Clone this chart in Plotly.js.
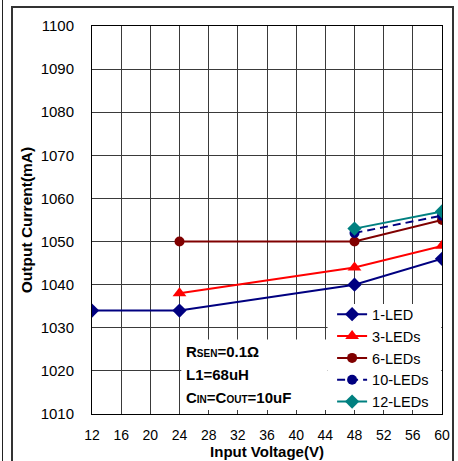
<!DOCTYPE html>
<html>
<head>
<meta charset="utf-8">
<script src="https://cdn.plot.ly/plotly-3.0.1.min.js"></script>
<style>
  html, body { margin: 0; padding: 0; background: #fff; }
  #wrap { position: relative; width: 458px; height: 461px; overflow: hidden; }
  #chart { position: absolute; left: 0; top: 0; width: 458px; height: 461px; }
  .frame { position: absolute; pointer-events: none; }
</style>
</head>
<body>
<div id="wrap">
  <div id="chart"></div>
  <div class="frame" style="left:2px; top:0; width:1px; height:461px; background:#222;"></div>
  <div class="frame" style="left:11px; top:6px; width:439px; height:470px; border-left:2px solid #333; border-top:2px solid #333; border-right:2px solid #333;"></div>
</div>
<script>
// ---- data ----
const voltage1 = [12, 24, 48, 60];
const current1 = [1034, 1034, 1040, 1046];
const voltage3 = [24, 48, 60];
const current3 = [1038, 1044, 1049];
const voltage6 = [24, 48, 60];
const current6 = [1050, 1050, 1055];
const voltage10 = [48, 60];
const current10 = [1052, 1056];
const voltage12 = [48, 60];
const current12 = [1053, 1057];
const seriesNames = ['1-LED', '3-LEDs', '6-LEDs', '10-LEDs', '12-LEDs'];
const xTicks = [12, 16, 20, 24, 28, 32, 36, 40, 44, 48, 52, 56, 60];
const yTicks = [1010, 1020, 1030, 1040, 1050, 1060, 1070, 1080, 1090, 1100];

const FONT = 'Arial, "Liberation Sans", sans-serif';
const GRID = '#3a3a3a';

const traces = [
  { x: voltage1, y: current1, name: seriesNames[0], mode: 'lines+markers',
    line: { color: '#000080', width: 2 },
    marker: { symbol: 'diamond', size: 11, color: '#000080' } },
  { x: voltage3, y: current3, name: seriesNames[1], mode: 'lines+markers',
    line: { color: '#ff0000', width: 2 },
    marker: { symbol: 'triangle-up', size: 12, color: '#ff0000' } },
  { x: voltage6, y: current6, name: seriesNames[2], mode: 'lines+markers',
    line: { color: '#800000', width: 2 },
    marker: { symbol: 'circle', size: 10, color: '#800000' } },
  { x: voltage10, y: current10, name: seriesNames[3], mode: 'lines+markers',
    line: { color: '#000080', width: 2, dash: '8px,5px' },
    marker: { symbol: 'circle', size: 10, color: '#000080' } },
  { x: voltage12, y: current12, name: seriesNames[4], mode: 'lines+markers',
    line: { color: '#008080', width: 2 },
    marker: { symbol: 'diamond', size: 11, color: '#008080' } }
];

const layout = {
  width: 458, height: 461,
  margin: { l: 92, r: 16, t: 26, b: 47 },
  paper_bgcolor: 'rgba(0,0,0,0)',
  plot_bgcolor: '#fff',
  font: { family: FONT, color: '#000' },
  showlegend: true,
  legend: {
    x: 0.686, xanchor: 'left', y: -0.011, yanchor: 'bottom',
    bgcolor: 'rgba(0,0,0,0)', borderwidth: 0,
    font: { family: FONT, size: 14.5, color: '#000' },
    traceorder: 'normal'
  },
  xaxis: {
    range: [12, 60], tickvals: xTicks, ticktext: xTicks.map(String),
    showgrid: true, gridcolor: GRID, gridwidth: 1,
    showline: true, linecolor: '#000', linewidth: 1, mirror: true,
    ticks: 'inside', ticklen: 4, tickcolor: GRID,
    tickfont: { family: FONT, size: 14, color: '#000' },
    ticklabelstandoff: 8,
    zeroline: false,
    title: { text: '<b>Input Voltage(V)</b>', font: { family: FONT, size: 15, color: '#000' }, standoff: 2 }
  },
  yaxis: {
    range: [1010, 1100], tickvals: yTicks, ticktext: yTicks.map(String),
    showgrid: true, gridcolor: GRID, gridwidth: 1,
    showline: true, linecolor: '#000', linewidth: 1, mirror: true,
    ticks: '', tickfont: { family: FONT, size: 15, color: '#000' },
    ticklabelstandoff: 14,
    zeroline: false,
    title: { text: '<b>Output Current(mA)</b>', font: { family: FONT, size: 15.5, color: '#000' }, standoff: 4 }
  },
  shapes: [
    { type: 'rect', layer: 'between', xref: 'x', yref: 'y',
      x0: 24.25, x1: 44.3, y0: 1010.6, y1: 1027.3,
      fillcolor: '#fff', line: { width: 0 } },
    { type: 'rect', layer: 'between', xref: 'x', yref: 'y',
      x0: 44.3, x1: 59.9, y0: 1010.6, y1: 1035.5,
      fillcolor: '#fff', line: { width: 0 } }
  ],
  annotations: [
    { xref: 'x', yref: 'y', x: 24.6, y: 1024.4, xanchor: 'left', yanchor: 'middle', showarrow: false,
      align: 'left', font: { family: FONT, size: 15, color: '#000' },
      text: '<b>R<span style="font-size:10px">SEN</span>=0.1Ω</b>' },
    { xref: 'x', yref: 'y', x: 24.6, y: 1019.1, xanchor: 'left', yanchor: 'middle', showarrow: false,
      align: 'left', font: { family: FONT, size: 15, color: '#000' },
      text: '<b>L1=68uH</b>' },
    { xref: 'x', yref: 'y', x: 24.6, y: 1013.9, xanchor: 'left', yanchor: 'middle', showarrow: false,
      align: 'left', font: { family: FONT, size: 15, color: '#000' },
      text: '<b>C<span style="font-size:10px">IN</span>=C<span style="font-size:10px">OUT</span>=10uF</b>' }
  ]
};

Plotly.newPlot('chart', traces, layout, { staticPlot: true, displayModeBar: false });
</script>
</body>
</html>
